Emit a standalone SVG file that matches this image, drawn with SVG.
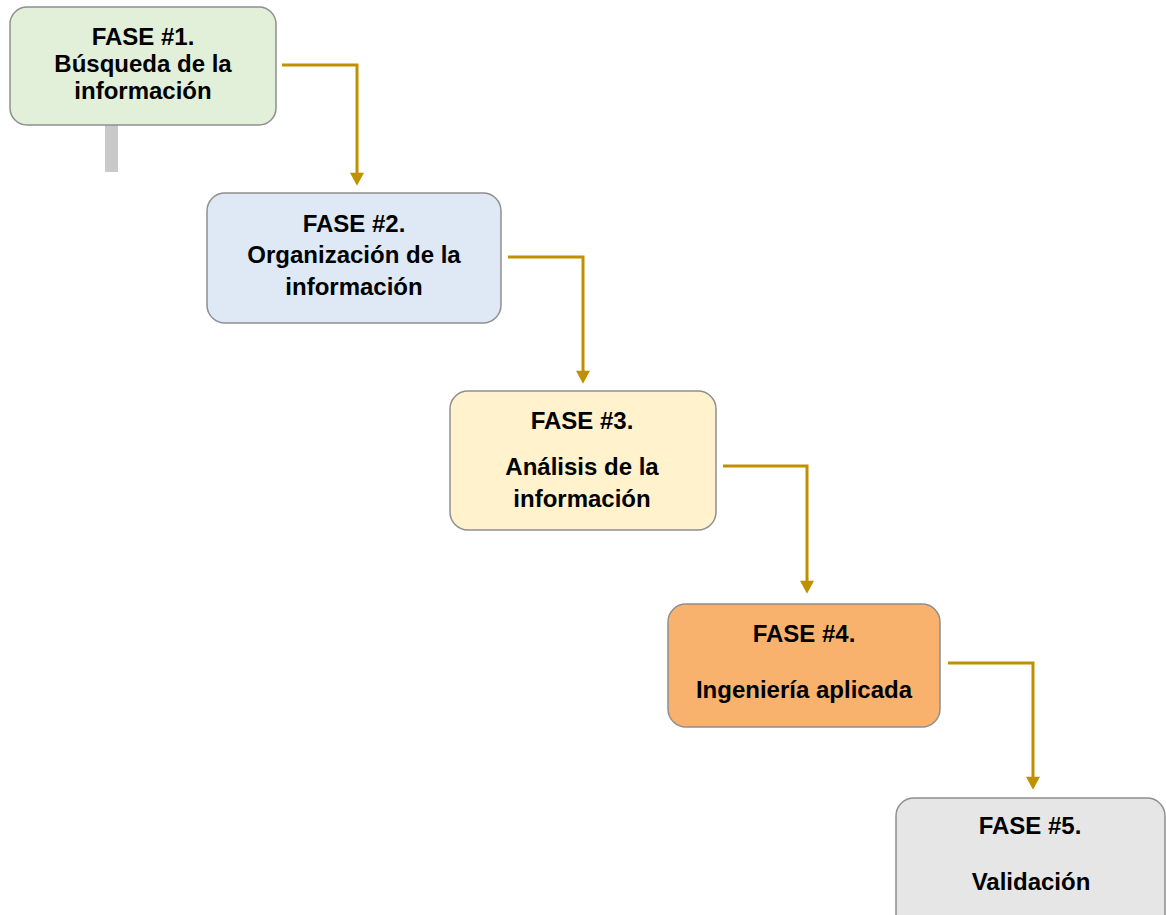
<svg xmlns="http://www.w3.org/2000/svg" width="1166" height="915" viewBox="0 0 1166 915">
<style>
.box{stroke:#8f8f8f;stroke-width:1.5}
.t{font-family:"Liberation Sans",Arial,sans-serif;font-weight:bold;font-size:24px;fill:#000;text-anchor:middle}
.c{fill:none;stroke:#bf9000;stroke-width:3}
</style>
<defs>
<marker id="arr" markerUnits="userSpaceOnUse" markerWidth="14" markerHeight="14" viewBox="0 0 12 13" refX="2" refY="6.5" orient="auto">
<path d="M0,0 L12,6.5 L0,13 z" fill="#bf9000"/>
</marker>
</defs>
<rect x="0" y="0" width="1166" height="915" fill="#ffffff"/>
<g id="node1">
<rect x="105" y="124" width="13" height="48" fill="#c9c9c9"/>
<rect class="box" x="10" y="7" width="266" height="118" rx="17" fill="#e2efd9"/>
<text class="t" x="143" y="45">FASE #1.</text>
<text class="t" x="143" y="72">Búsqueda de la</text>
<text class="t" x="143" y="99">información</text>
</g>
<g id="node2">
<rect class="box" x="207" y="193" width="294" height="130" rx="18" fill="#dee9f5"/>
<text class="t" x="354" y="232">FASE #2.</text>
<text class="t" x="354" y="263">Organización de la</text>
<text class="t" x="354" y="295">información</text>
</g>
<g id="node3">
<rect class="box" x="450" y="391" width="266" height="139" rx="18" fill="#fff2cc"/>
<text class="t" x="582" y="429">FASE #3.</text>
<text class="t" x="582" y="475">Análisis de la</text>
<text class="t" x="582" y="507">información</text>
</g>
<g id="node4">
<rect class="box" x="668" y="604" width="272" height="123" rx="18" fill="#f8b26e"/>
<text class="t" x="804" y="642">FASE #4.</text>
<text class="t" x="804" y="698">Ingeniería aplicada</text>
</g>
<g id="node5">
<rect class="box" x="896" y="798" width="269" height="140" rx="18" fill="#e6e6e6"/>
<text class="t" x="1030" y="834">FASE #5.</text>
<text class="t" x="1031" y="890">Validación</text>
</g>
<g id="connectors">
<path class="c" d="M282,65 H357 V175" marker-end="url(#arr)"/>
<path class="c" d="M508,257 H583 V373" marker-end="url(#arr)"/>
<path class="c" d="M723,466 H807 V583" marker-end="url(#arr)"/>
<path class="c" d="M948,663 H1033 V779" marker-end="url(#arr)"/>
</g>
</svg>
